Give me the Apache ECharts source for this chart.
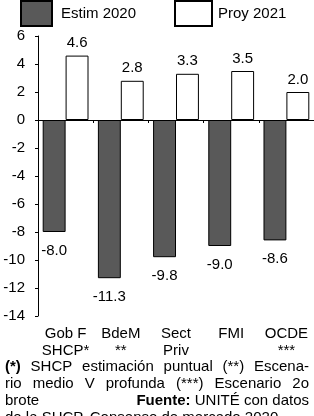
<!DOCTYPE html>
<html><head><meta charset="utf-8">
<script src="https://cdn.jsdelivr.net/npm/echarts@6/dist/echarts.min.js"></script>
<style>html,body{margin:0;padding:0;background:#fff;}#c{width:314px;height:416px;}</style>
</head><body><div id="c"></div>
<script>
const categories = ['Gob F\nSHCP*', 'BdeM\n**', 'Sect\nPriv', 'FMI', 'OCDE\n***'];
const estim2020 = [-8.0, -11.3, -9.8, -9.0, -8.6];
const proy2021 = [4.6, 2.8, 3.3, 3.5, 2.0];
const yTicks = {min: -14, max: 6, interval: 2};
const seriesNames = ['Estim 2020', 'Proy 2021'];
const noteLines = [
  [['(*)', true], ['SHCP', false], ['estimación', false], ['puntual', false], ['(**)', false], ['Escena-', false]],
  [['rio', false], ['medio', false], ['V', false], ['profunda', false], ['(***)', false], ['Escenario', false], ['2o', false]]
];
const noteLine3Left = 'brote';
const noteLine3Right = [['Fuente:', true], ['UNITÉ', false], ['con', false], ['datos', false]];
const noteLine4 = 'de la SHCP, Consenso de mercado 2020';

const FONT = '"Liberation Sans", Arial, sans-serif';
const FS = 15;

function withLabels(arr) {
  return arr.map(v => ({value: v, label: {position: v < 0 ? 'bottom' : 'top', distance: v < 0 ? 11 : 5}}));
}

const ctx = document.createElement('canvas').getContext('2d');
function fnt(bold) { return (bold ? 'bold ' : '') + FS + 'px ' + FONT; }
function tw(t, bold) { ctx.font = fnt(bold); return ctx.measureText(t).width; }

const graphics = [];
const noteLeft = 5, noteRight = 309, noteTops = [359, 376, 393, 410];
noteLines.forEach((words, i) => {
  const total = words.reduce((s, w) => s + tw(w[0], w[1]), 0);
  const gap = (noteRight - noteLeft - total) / (words.length - 1);
  let x = noteLeft;
  words.forEach(w => {
    graphics.push({type: 'text', x: x, y: noteTops[i], style: {text: w[0], font: fnt(w[1]), fill: '#000'}});
    x += tw(w[0], w[1]) + gap;
  });
});
graphics.push({type: 'text', x: noteLeft, y: noteTops[2], style: {text: noteLine3Left, font: fnt(false), fill: '#000'}});
{
  const sp = tw(' ', false);
  const total = noteLine3Right.reduce((s, w) => s + tw(w[0], w[1]), 0) + sp * (noteLine3Right.length - 1);
  let x = noteRight - total;
  noteLine3Right.forEach(w => {
    graphics.push({type: 'text', x: x, y: noteTops[2], style: {text: w[0], font: fnt(w[1]), fill: '#000'}});
    x += tw(w[0], w[1]) + sp;
  });
}
graphics.push({type: 'text', x: noteLeft, y: noteTops[3], style: {text: noteLine4, font: fnt(false), fill: '#000'}});

const chart = echarts.init(document.getElementById('c'), null, {renderer: 'canvas'});
chart.setOption({
  animation: false,
  textStyle: {fontFamily: FONT},
  grid: {left: 38, right: 0, top: 36, bottom: 100},
  legend: [
    {data: [{name: seriesNames[0], icon: 'rect'}], left: 20, top: 0, padding: 0, itemWidth: 31, itemHeight: 25, itemGap: 0,
     textStyle: {fontSize: FS, color: '#000', fontFamily: FONT, padding: [0, 0, 0, 4]}, selectedMode: false},
    {data: [{name: seriesNames[1], icon: 'rect'}], left: 174, top: 0, padding: 0, itemWidth: 37, itemHeight: 25, itemGap: 0,
     textStyle: {fontSize: FS, color: '#000', fontFamily: FONT, padding: [0, 0, 0, 1]}, selectedMode: false}
  ],
  xAxis: [
    {type: 'category', data: categories, position: 'bottom',
     axisLine: {onZero: true, lineStyle: {color: '#000', width: 1}},
     axisTick: {show: true, inside: false, length: 3, lineStyle: {color: '#000'}},
     axisLabel: {show: false}},
    {type: 'category', data: categories, position: 'bottom',
     axisLine: {show: false, onZero: false}, axisTick: {show: false},
     axisLabel: {show: true, color: '#000', fontSize: FS, fontFamily: FONT, margin: 9, lineHeight: 17, interval: 0}}
  ],
  yAxis: {type: 'value', min: yTicks.min, max: yTicks.max, interval: yTicks.interval,
    axisLine: {show: true, lineStyle: {color: '#000'}},
    axisTick: {show: true, length: 3, lineStyle: {color: '#000'}},
    splitLine: {show: false},
    axisLabel: {color: '#000', fontSize: FS, fontFamily: FONT, margin: 13}},
  series: [
    {name: seriesNames[0], type: 'bar', xAxisIndex: 0, data: withLabels(estim2020),
     barGap: '0%', barCategoryGap: '17%',
     itemStyle: {color: '#595959', borderColor: '#000', borderWidth: 1},
     label: {show: true, color: '#000', fontSize: FS, fontFamily: FONT, formatter: p => p.value.toFixed(1)}},
    {name: seriesNames[1], type: 'bar', xAxisIndex: 0, data: withLabels(proy2021),
     barGap: '0%', barCategoryGap: '17%',
     itemStyle: {color: '#fff', borderColor: '#000', borderWidth: 1},
     label: {show: true, color: '#000', fontSize: FS, fontFamily: FONT, formatter: p => p.value.toFixed(1)}}
  ],
  graphic: graphics
});
</script></body></html>
